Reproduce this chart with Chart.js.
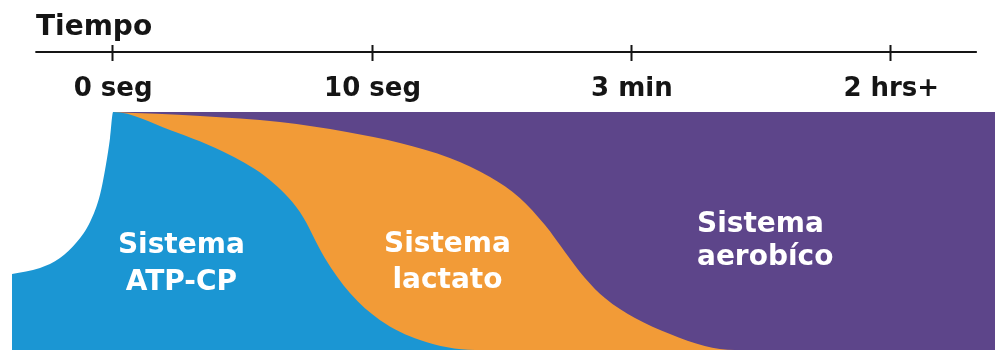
<!DOCTYPE html>
<html lang="es">
<head>
<meta charset="utf-8">
<title>Sistemas energéticos en el tiempo</title>
<script src="https://cdn.jsdelivr.net/npm/chart.js@4.4.1/dist/chart.umd.min.js"></script>
<style>
  html, body { margin: 0; padding: 0; background: #ffffff; }
  #chart { display: block; }
</style>
</head>
<body>
<canvas id="chart" width="995" height="350"></canvas>
<script>
// Timeline positions: 0 = "0 seg", 1 = "10 seg", 2 = "3 min", 3 = "2 hrs+"
const tickValues = [0, 1, 2, 3];
const tickLabels = ['0 seg', '10 seg', '3 min', '2 hrs+'];
const axisTitle = 'Tiempo';

// Upper edge of each energy system band (% of total supply, cumulative from the bottom)
const atpCpEdge = [
  [-0.39, 31.9], [-0.282, 34.5], [-0.205, 38.7], [-0.140, 45.4], [-0.089, 53.8],
  [-0.051, 65.1], [-0.028, 77.7], [-0.012, 89.1], [0, 100],
  [0.219, 92.4], [0.450, 81.9], [0.604, 71.4], [0.720, 58.0], [0.816, 38.7],
  [0.913, 23.9], [1.028, 12.6], [1.183, 4.2], [1.395, 0], [3.4, 0]
];
const lactatoEdge = [
  [0, 100], [0.335, 98.3], [0.643, 95.8], [0.901, 91.6], [1.106, 87.0],
  [1.298, 80.7], [1.453, 72.7], [1.568, 63.9], [1.665, 52.5], [1.742, 41.2],
  [1.819, 30.3], [1.896, 21.8], [2.012, 13.4], [2.147, 6.7], [2.281, 1.7],
  [2.397, 0], [3.4, 0]
];
const aerobicoEdge = [[0, 100], [3.4, 100]];

const systemNames = [['Sistema', 'ATP-CP'], ['Sistema', 'lactato'], ['Sistema', 'aerobíco']];
const systemColors = ['#1b96d3', '#f29b37', '#5d458a'];

const toPoints = arr => arr.map(([x, y]) => ({ x, y }));

// Timeline drawn above the plot through the x scale
const timelinePlugin = {
  id: 'timeline',
  afterDraw(chart) {
    const { ctx } = chart;
    const xs = chart.scales.x;
    const ys = chart.scales.y;
    ctx.save();
    ctx.strokeStyle = '#151515';
    ctx.lineWidth = 2;
    const lineY = 52;
    ctx.beginPath();
    ctx.moveTo(xs.getPixelForValue(-0.3), lineY);
    ctx.lineTo(xs.getPixelForValue(3.33), lineY);
    ctx.stroke();
    ctx.beginPath();
    tickValues.forEach(v => {
      const px = Math.round(xs.getPixelForValue(v)) - 0.5;
      ctx.moveTo(px, lineY - 7);
      ctx.lineTo(px, lineY + 9);
    });
    ctx.stroke();

    ctx.fillStyle = '#151515';
    ctx.font = 'bold 28px "DejaVu Sans"';
    ctx.textAlign = 'left';
    ctx.textBaseline = 'alphabetic';
    ctx.fillText(axisTitle, 36, 35);

    ctx.font = 'bold 26px "DejaVu Sans"';
    ctx.textAlign = 'center';
    tickValues.forEach((v, i) => {
      ctx.fillText(tickLabels[i], xs.getPixelForValue(v), 96);
    });

    // Band names, anchored in data units
    const anchors = [
      { x: 0.263, y: 40.8, align: 'center', gap: 37 },
      { x: 1.289, y: 41.2, align: 'center', gap: 36 },
      { x: 2.251, y: 49.6, align: 'left', gap: 33 }
    ];
    ctx.fillStyle = '#ffffff';
    ctx.font = 'bold 28px "DejaVu Sans"';
    systemNames.forEach((lines, i) => {
      const a = anchors[i];
      ctx.textAlign = a.align;
      const px = xs.getPixelForValue(a.x);
      const py = ys.getPixelForValue(a.y);
      lines.forEach((t, j) => ctx.fillText(t, px, py + j * a.gap));
    });
    ctx.restore();
  }
};

const common = {
  fill: 'origin',
  borderWidth: 0,
  pointRadius: 0,
  cubicInterpolationMode: 'monotone'
};

new Chart(document.getElementById('chart'), {
  type: 'line',
  data: {
    datasets: [
      { ...common, label: 'Sistema ATP-CP', data: toPoints(atpCpEdge), backgroundColor: systemColors[0], borderColor: systemColors[0] },
      { ...common, label: 'Sistema lactato', data: toPoints(lactatoEdge), backgroundColor: systemColors[1], borderColor: systemColors[1] },
      { ...common, label: 'Sistema aerobíco', data: toPoints(aerobicoEdge), backgroundColor: systemColors[2], borderColor: systemColors[2] }
    ]
  },
  options: {
    responsive: false,
    devicePixelRatio: 1,
    animation: false,
    layout: { padding: { top: 112, left: 12, right: 0, bottom: 0 } },
    scales: {
      x: { type: 'linear', min: -0.39, max: 3.4, display: false },
      y: { min: 0, max: 100, display: false }
    },
    plugins: {
      legend: { display: false },
      tooltip: { enabled: false }
    }
  },
  plugins: [timelinePlugin]
});
</script>
</body>
</html>
